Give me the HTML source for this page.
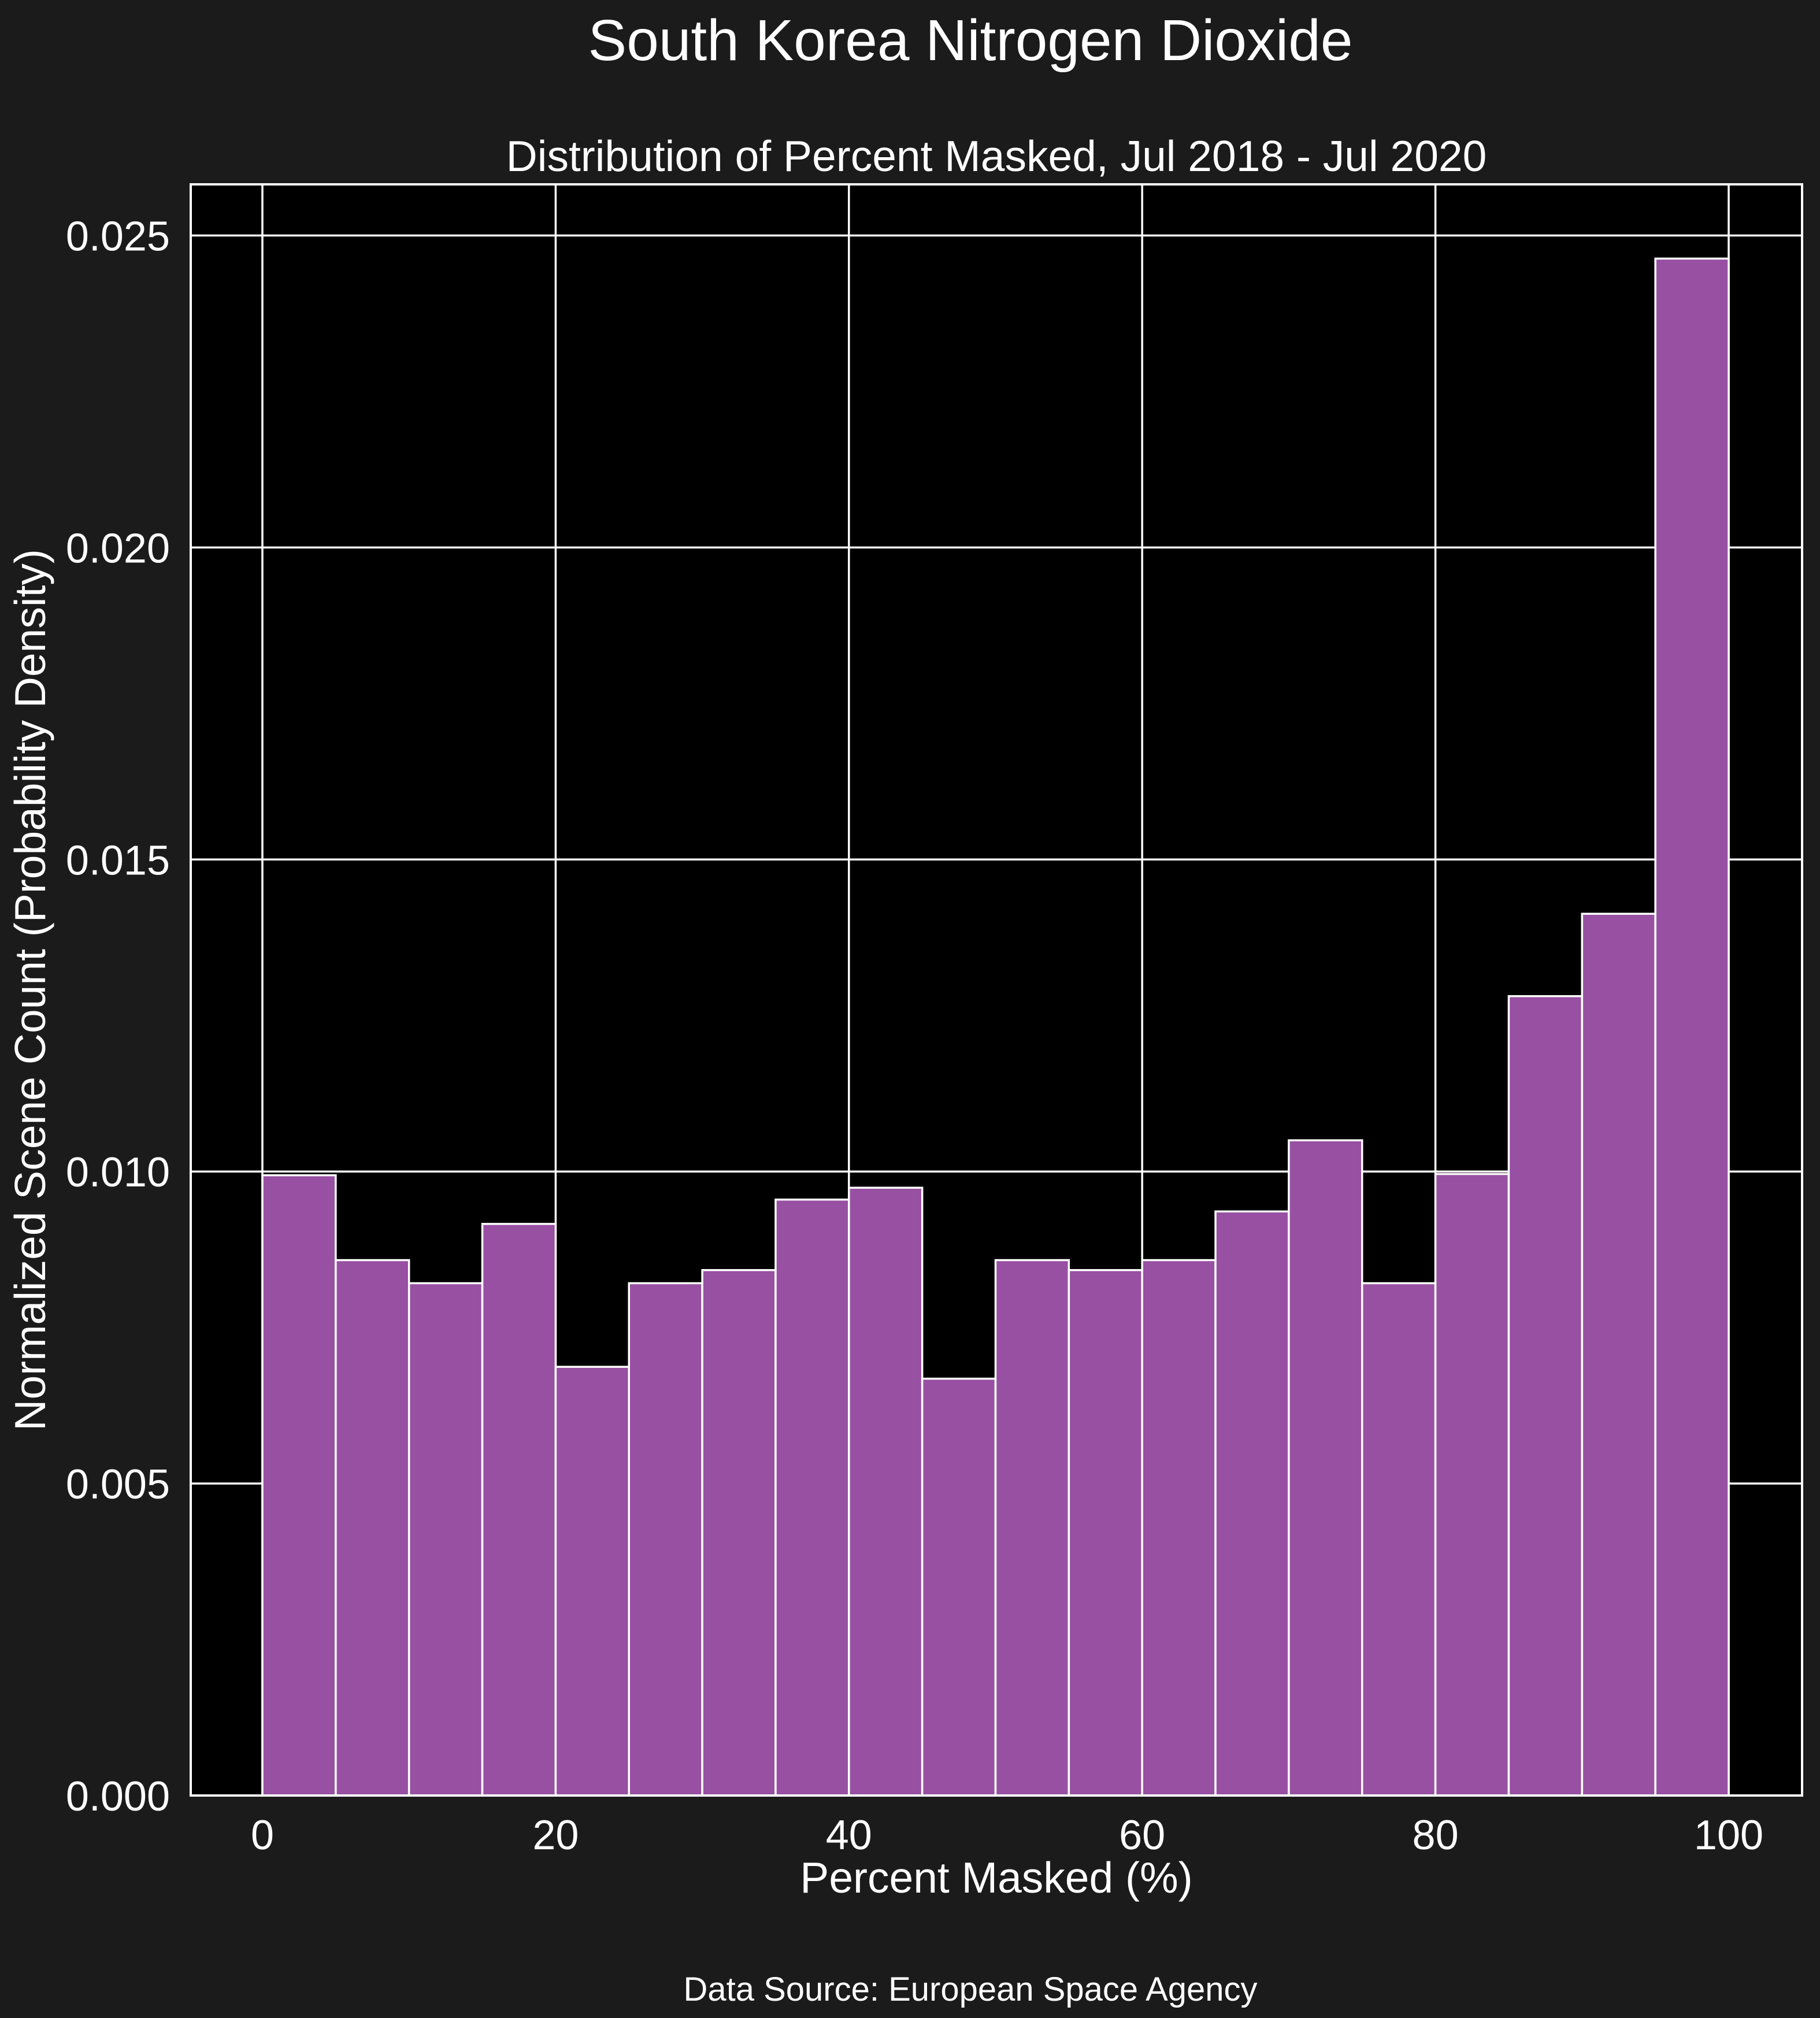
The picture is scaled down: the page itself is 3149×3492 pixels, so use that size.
<!DOCTYPE html>
<html><head><meta charset="utf-8"><style>
html,body{margin:0;padding:0;background:#1b1b1b;}
svg{display:block;font-family:"Liberation Sans",Arial,sans-serif;}
</style></head><body>
<svg id="chart" width="3149" height="3492" viewBox="0 0 3149 3492">
<rect x="0" y="0" width="3149" height="3492" fill="#1b1b1b"/>
<text x="1679" y="104" text-anchor="middle" fill="#fff" font-size="100">South Korea Nitrogen Dioxide</text>
<text x="1724" y="296" text-anchor="middle" fill="#fff" font-size="75">Distribution of Percent Masked, Jul 2018 - Jul 2020</text>
<rect x="330" y="319" width="2788" height="2788" fill="#000"/>
<g id="grid"></g>
<g id="bars"></g>
<rect x="330" y="319" width="2788" height="2788" fill="none" stroke="#fff" stroke-width="4"/>
<g id="xticks"></g>
<g id="yticks"></g>
<text x="1724" y="3275" text-anchor="middle" fill="#fff" font-size="75">Percent Masked (%)</text>
<text transform="translate(78,1713) rotate(-90)" text-anchor="middle" fill="#fff" font-size="75">Normalized Scene Count (Probability Density)</text>
<text x="1679" y="3462" text-anchor="middle" fill="#fff" font-size="58">Data Source: European Space Agency</text>
</svg>
<script>
const binEdges=[0,5,10,15,20,25,30,35,40,45,50,55,60,65,70,75,80,85,90,95,100];
const densities=[0.00994,0.00858,0.00821,0.00916,0.00687,0.00821,0.00842,0.00955,0.00974,0.00668,0.00858,0.00842,0.00858,0.00936,0.0105,0.00821,0.00996,0.01281,0.01413,0.02463];
const xTicks=[0,20,40,60,80,100];
const yTicks=[0,0.005,0.010,0.015,0.020,0.025];
const yTickLabels=["0.000","0.005","0.010","0.015","0.020","0.025"];
const NS="http://www.w3.org/2000/svg";
const X0=454,X1=2991,Y0=3107,Y25=407.5;
function xs(v){return X0+(X1-X0)*v/100;}
function ys(v){return Y0+(Y25-Y0)*v/0.025;}
const grid=document.getElementById('grid'),bars=document.getElementById('bars'),xt=document.getElementById('xticks'),yt=document.getElementById('yticks');
function mk(t,a){const e=document.createElementNS(NS,t);for(const k in a)e.setAttribute(k,a[k]);return e;}
xTicks.forEach(v=>{
const l=mk('line',{x1:xs(v),x2:xs(v),y1:319,y2:3107,stroke:'#fff','stroke-width':3.5});


grid.appendChild(l);
const t=mk('text',{x:xs(v),y:3200,'text-anchor':'middle',fill:'#fff','font-size':72});
t.textContent=v;


xt.appendChild(t);
});
yTicks.forEach((v,i)=>{
const l=mk('line',{x1:330,x2:3118,y1:ys(v),y2:ys(v),stroke:'#fff','stroke-width':3.5});


grid.appendChild(l);
const t=mk('text',{x:294,y:ys(v)+26,'text-anchor':'end',fill:'#fff','font-size':72});
t.textContent=yTickLabels[i];


yt.appendChild(t);
});
densities.forEach((d,i)=>{
const x=xs(binEdges[i]),w=xs(binEdges[i+1])-x,y=ys(d);
const r=mk('rect',{x:x,y:y,width:w,height:Y0-y,fill:'#9850a3',stroke:'#fff','stroke-width':3.5});


bars.appendChild(r);
});
</script>
</body></html>
